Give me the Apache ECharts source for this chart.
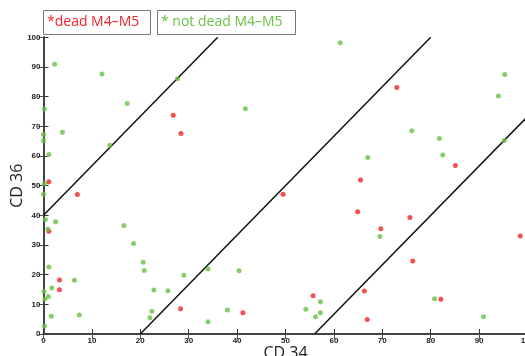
<!DOCTYPE html>
<html><head><meta charset="utf-8">
<script src="https://cdn.jsdelivr.net/npm/echarts@6/dist/echarts.min.js"></script>
<style>html,body{margin:0;padding:0;background:#fff}#c{width:525px;height:356px}</style>
</head><body><div id="c"></div>
<script>
var xTicks = [0,10,20,30,40,50,60,70,80,90,100];
var yTicks = [0,10,20,30,40,50,60,70,80,90,100];
var deadM4M5 = [
 [1.1,51.3],[26.8,73.7],[28.4,67.6],[7.0,47.0],[1.1,34.6],[3.3,18.2],[3.3,14.9],[28.3,8.5],
 [49.5,47.1],[41.2,7.2],[55.7,12.9],[73.0,83.1],[85.1,56.8],[65.5,51.9],[64.9,41.2],[75.7,39.3],
 [69.7,35.5],[98.5,33.0],[76.3,24.6],[66.3,14.5],[82.1,11.7],[66.9,4.9]
];
var notDeadM4M5 = [
 [2.3,90.9],[12.1,87.6],[17.3,77.7],[0.2,75.8],[0,67.2],[0,65.1],[3.9,68.0],[1.1,60.5],[13.7,63.6],
 [0.2,50.7],[27.7,86.0],[41.7,75.9],[61.3,98.2],[0,47.1],[0.4,38.6],[2.5,37.8],[0.9,35.4],[16.6,36.6],
 [18.6,30.5],[20.6,24.2],[20.8,21.4],[1.1,22.6],[6.4,18.1],[1.7,15.5],[0.1,14.3],[1.0,12.6],[0.3,11.8],
 [1.6,6.0],[7.4,6.4],[0.2,2.7],[22.8,14.8],[25.7,14.6],[22.4,7.7],[22.0,5.5],[29.0,19.8],[34.0,21.9],
 [40.4,21.3],[38.0,8.1],[34.0,4.1],[57.2,10.9],[54.2,8.3],[57.2,7.2],[56.2,5.8],
 [95.3,87.5],[94.0,80.2],[76.1,68.5],[81.8,65.9],[67.0,59.5],[82.5,60.3],[95.2,65.2],
 [69.5,32.9],[80.8,11.9],[90.9,5.8]
];
var line1 = [[0,40],[36,100]];
var line2 = [[20,0],[80,100]];
var line3 = [[56,0],[100,73.3]];
var legendLabels = ['*dead M4\u2013M5','* not dead M4\u2013M5'];

var RED = '#f2232b', GREEN = '#6cc043';
var chart = echarts.init(document.getElementById('c'), null, {renderer:'canvas'});
var labelStyle = {fontSize:8, color:'#222', fontWeight:'bold', fontFamily:'Liberation Sans Narrow, Liberation Sans, sans-serif', margin:3};
var lineSer = function(d){return {type:'line', data:d, symbol:'none', lineStyle:{color:'#111', width:1.5}, silent:true, z:1};};
chart.setOption({
  animation:false,
  grid:{left:43.5, top:37.3, width:484, height:296.7, containLabel:false, outerBoundsMode:'none'},
  xAxis:[
    {type:'value', min:0, max:100, interval:10, position:'bottom',
     axisLine:{show:true, lineStyle:{color:'#111', width:2}},
     axisTick:{show:true, inside:true, length:5, lineStyle:{color:'#333'}},
     axisLabel:labelStyle, splitLine:{show:false},
     name:'CD 34', nameLocation:'middle', nameGap:11, nameMoveOverlap:false,
     nameTextStyle:{fontSize:16, color:'#222', fontFamily:'Open Sans, sans-serif'}},
    {type:'value', min:0, max:100, interval:10, position:'top',
     axisLine:{show:true, lineStyle:{color:'#555', width:1.5}},
     axisTick:{show:true, inside:true, length:5, lineStyle:{color:'#555'}},
     axisLabel:{show:false}, splitLine:{show:false}}
  ],
  yAxis:[
    {type:'value', min:0, max:100, interval:10, position:'left',
     axisLine:{show:true, lineStyle:{color:'#111', width:2}},
     axisTick:{show:true, inside:true, length:5, lineStyle:{color:'#333'}},
     axisLabel:labelStyle, splitLine:{show:false},
     name:'CD 36', nameLocation:'middle', nameGap:18, nameRotate:90, nameMoveOverlap:false,
     nameTextStyle:{fontSize:16, color:'#222', fontFamily:'Open Sans, sans-serif'}},
    {type:'value', min:0, max:100, interval:10, position:'right',
     axisLine:{show:true, lineStyle:{color:'#555', width:1.5}},
     axisTick:{show:true, inside:true, length:5, lineStyle:{color:'#555'}},
     axisLabel:{show:false}, splitLine:{show:false}}
  ],
  series:[
    lineSer(line1), lineSer(line2), lineSer(line3),
    {type:'scatter', data:deadM4M5, symbol:'circle', symbolSize:5, itemStyle:{color:RED}, z:3},
    {type:'scatter', data:notDeadM4M5, symbol:'circle', symbolSize:5, itemStyle:{color:GREEN}, z:3}
  ],
  graphic:[
    {type:'rect', shape:{x:43.5, y:10.5, width:107, height:24}, style:{fill:'#fff', stroke:'#777', lineWidth:1}},
    {type:'text', x:47, y:22.5, style:{text:legendLabels[0], fill:RED, font:'14px "Open Sans", sans-serif', textVerticalAlign:'middle'}},
    {type:'rect', shape:{x:157.5, y:10.5, width:138, height:24}, style:{fill:'#fff', stroke:'#777', lineWidth:1}},
    {type:'text', x:161, y:22.5, style:{text:legendLabels[1], fill:GREEN, font:'14px "Open Sans", sans-serif', textVerticalAlign:'middle'}}
  ]
});
</script></body></html>
